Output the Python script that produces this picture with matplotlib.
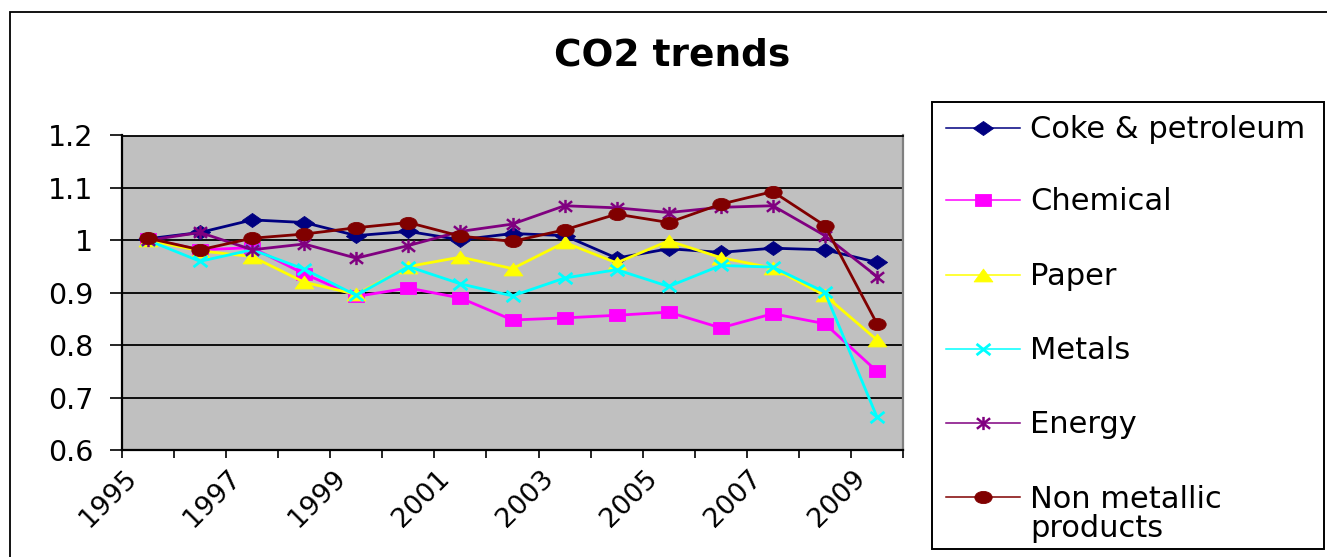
import matplotlib
matplotlib.use('Agg')
import matplotlib.pyplot as plt
import matplotlib.transforms as mtransforms
from matplotlib.path import Path
from matplotlib.patches import Rectangle
from matplotlib.lines import Line2D
import numpy as np

# ---------------- data ----------------
years = list(range(1995, 2010))
x_tick_labels = ['1995', '1997', '1999', '2001', '2003', '2005', '2007', '2009']
y_ticks = [0.6, 0.7, 0.8, 0.9, 1.0, 1.1, 1.2]
y_tick_labels = ['0.6', '0.7', '0.8', '0.9', '1', '1.1', '1.2']

series_names = ['Coke & petroleum', 'Chemical', 'Paper', 'Metals', 'Energy',
                'Non metallic\nproducts']
coke = [1.003, 1.015, 1.039, 1.034, 1.009, 1.017, 1.001, 1.013, 1.009, 0.966,
        0.984, 0.977, 0.985, 0.982, 0.958]
chemical = [1.003, 0.982, 0.986, 0.936, 0.893, 0.909, 0.890, 0.848, 0.852, 0.857,
            0.863, 0.833, 0.860, 0.841, 0.750]
paper = [1.000, 0.980, 0.969, 0.920, 0.897, 0.950, 0.968, 0.946, 0.996, 0.957,
         0.999, 0.967, 0.947, 0.895, 0.810]
metals = [1.000, 0.960, 0.982, 0.945, 0.895, 0.950, 0.917, 0.894, 0.928, 0.944,
          0.912, 0.952, 0.949, 0.901, 0.663]
energy = [1.000, 1.015, 0.982, 0.993, 0.966, 0.990, 1.017, 1.031, 1.066, 1.062,
          1.053, 1.063, 1.066, 1.009, 0.931]
non_metallic = [1.004, 0.982, 1.004, 1.012, 1.024, 1.034, 1.008, 0.998, 1.020, 1.050,
                1.034, 1.069, 1.093, 1.028, 0.841]
series_values = [coke, chemical, paper, metals, energy, non_metallic]

# ---------------- styles ----------------
colors = ['#000080', '#FF00FF', '#FFFF00', '#00FFFF', '#800080', '#800000']

def closed(verts):
    return Path(verts + [verts[0]], [Path.MOVETO] + [Path.LINETO] * (len(verts) - 1) + [Path.CLOSEPOLY])

diamond = closed([(-1.43, 0), (0, 1), (1.43, 0), (0, -1)])
square = closed([(-1.33, -1), (1.33, -1), (1.33, 1), (-1.33, 1)])
triangle = closed([(-1.46, -1), (1.46, -1), (0, 1)])
circ = Path.unit_circle()
ellipse = Path(circ.vertices * np.array([1.42, 1.0]), circ.codes)
xmark = Path([(-1, -0.8), (1, 0.8), (-1, 0.8), (1, -0.8)],
             [Path.MOVETO, Path.LINETO, Path.MOVETO, Path.LINETO])
star = Path([(-1, -0.8), (1, 0.8), (-1, 0.8), (1, -0.8), (0, -1), (0, 1)],
            [Path.MOVETO, Path.LINETO, Path.MOVETO, Path.LINETO, Path.MOVETO, Path.LINETO])

marker_styles = [
    dict(marker=diamond, markersize=14.5, markeredgewidth=0.6),
    dict(marker=square, markersize=11.5, markeredgewidth=0.6),
    dict(marker=triangle, markersize=13.5, markeredgewidth=0.6),
    dict(marker=xmark, markersize=10, markeredgewidth=2.0, markerfacecolor='none'),
    dict(marker=star, markersize=9.5, markeredgewidth=1.8, markerfacecolor='none'),
    dict(marker=ellipse, markersize=12.5, markeredgewidth=0.6),
]

W, H = 1327, 557
fig = plt.figure(figsize=(W / 100, H / 100), dpi=100)
fig.patch.set_facecolor('white')

def fx(px):
    return px / W

def fy(py):
    return 1 - py / H

ax = fig.add_axes([fx(122), fy(450), fx(903) - fx(122), fy(135.5) - fy(450)])
ax.set_facecolor('#C0C0C0')

x = np.arange(len(years))
for vals, col, ms in zip(series_values, colors, marker_styles):
    kw = dict(ms)
    kw.setdefault('markerfacecolor', col)
    ax.plot(x, vals, color=col, lw=2.0, markeredgecolor=col, clip_on=False,
            solid_joinstyle='miter', **kw)

ax.set_xlim(-0.5, len(years) - 0.5)
ax.set_ylim(0.6, 1.2)

for yv in y_ticks[1:-1]:
    ax.axhline(yv, color='black', lw=1.3, zorder=0.5)

ax.set_yticks(y_ticks)
ax.set_yticklabels(y_tick_labels, fontsize=20.5, family='DejaVu Sans')
ax.tick_params(axis='y', direction='out', length=8.6, width=1.2, pad=12, colors='black')

label_pos = [years.index(int(t)) for t in x_tick_labels]
ax.set_xticks(label_pos)
ax.set_xticklabels(x_tick_labels, fontsize=19.5, family='DejaVu Sans', rotation=45,
                   ha='right', va='top', rotation_mode='anchor')
ax.tick_params(axis='x', which='major', length=0, pad=11)
ax.set_xticks(np.arange(-0.5, len(years), 1.0), minor=True)
ax.tick_params(axis='x', which='minor', direction='out', length=6, width=1.2, colors='black')
offset = mtransforms.ScaledTranslation(-24 / 100, 0, fig.dpi_scale_trans)
for lab in ax.get_xticklabels():
    lab.set_transform(lab.get_transform() + offset)

for side, col, lw in [('left', 'black', 1.6), ('bottom', 'black', 1.6),
                      ('top', 'black', 1.3), ('right', '#808080', 1.6)]:
    ax.spines[side].set_color(col)
    ax.spines[side].set_linewidth(lw)

# outer chart border (right/bottom edges fall outside the image)
fig.add_artist(Rectangle((fx(10), -0.05), 1.2, fy(12) + 0.05, fill=False,
                         edgecolor='black', lw=1.3, transform=fig.transFigure))

# title
fig.text(fx(672), fy(66), 'CO2 trends', ha='center', va='baseline',
         fontsize=27, fontweight='bold', family='DejaVu Sans')

# legend (drawn by hand to mimic the spreadsheet legend layout)
fig.add_artist(Rectangle((fx(932), fy(549)), fx(1324) - fx(932), fy(102) - fy(549),
                         fill=False, edgecolor='black', lw=1.4, transform=fig.transFigure))
row_y = [127.7, 200, 275, 349, 423, 497]
for name, col, ms, ry in zip(series_names, colors, marker_styles, row_y):
    kw = dict(ms)
    kw.setdefault('markerfacecolor', col)
    fig.add_artist(Line2D([fx(946), fx(1020)], [fy(ry), fy(ry)], color=col, lw=1.1,
                          transform=fig.transFigure))
    fig.add_artist(Line2D([fx(983)], [fy(ry)], color=col, lw=0, markeredgecolor=col,
                          transform=fig.transFigure, **kw))
    nlines = name.count('\n')
    fig.text(fx(1030), fy(ry + 10 + 30 * nlines), name, ha='left', va='baseline',
             fontsize=22, family='DejaVu Sans', linespacing=1.02)

fig.savefig('out.png', dpi=100, facecolor='white')
